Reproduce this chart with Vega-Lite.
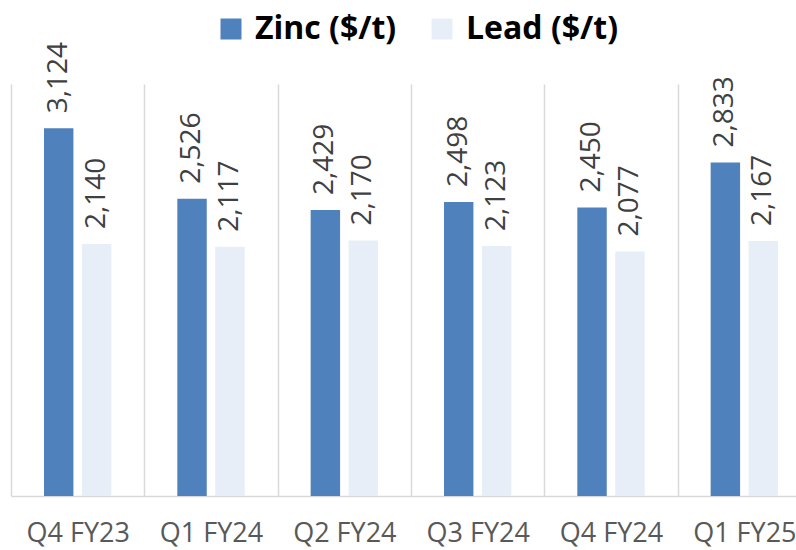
{
  "$schema": "https://vega.github.io/schema/vega-lite/v6.json",
  "autosize": {"type": "none"},
  "width": 785,
  "height": 412,
  "padding": {"left": 11, "top": 84, "right": 0, "bottom": 54},
  "background": "white",
  "config": {"view": {"stroke": null}, "font": "Open Sans"},
  "data": {
    "values": [
      {"quarter": "Q4 FY23", "metal": "Zinc ($/t)", "value": 3124},
      {"quarter": "Q4 FY23", "metal": "Lead ($/t)", "value": 2140},
      {"quarter": "Q1 FY24", "metal": "Zinc ($/t)", "value": 2526},
      {"quarter": "Q1 FY24", "metal": "Lead ($/t)", "value": 2117},
      {"quarter": "Q2 FY24", "metal": "Zinc ($/t)", "value": 2429},
      {"quarter": "Q2 FY24", "metal": "Lead ($/t)", "value": 2170},
      {"quarter": "Q3 FY24", "metal": "Zinc ($/t)", "value": 2498},
      {"quarter": "Q3 FY24", "metal": "Lead ($/t)", "value": 2123},
      {"quarter": "Q4 FY24", "metal": "Zinc ($/t)", "value": 2450},
      {"quarter": "Q4 FY24", "metal": "Lead ($/t)", "value": 2077},
      {"quarter": "Q1 FY25", "metal": "Zinc ($/t)", "value": 2833},
      {"quarter": "Q1 FY25", "metal": "Lead ($/t)", "value": 2167}
    ]
  },
  "encoding": {
    "x": {
      "field": "quarter", "type": "nominal", "sort": null,
      "scale": {"range": [0, 800], "paddingInner": 0, "paddingOuter": 0},
      "axis": {
        "title": null, "labelAngle": 0, "labelFontSize": 27, "labelColor": "#595959",
        "labelFont": "Open Sans", "labelPadding": 24, "ticks": false,
        "tickBand": "extent", "grid": true, "gridColor": "#d9d9d9", "gridWidth": 1.5,
        "domainColor": "#d9d9d9", "domainWidth": 1.5
      }
    },
    "xOffset": {
      "field": "metal", "type": "nominal", "sort": ["Zinc ($/t)", "Lead ($/t)"],
      "scale": {"paddingInner": 0.224, "paddingOuter": 0.87}
    },
    "y": {
      "field": "value", "type": "quantitative",
      "scale": {"domain": [0, 3500], "nice": false},
      "axis": null
    }
  },
  "layer": [
    {
      "mark": {"type": "bar"},
      "encoding": {
        "color": {
          "field": "metal", "type": "nominal", "sort": ["Zinc ($/t)", "Lead ($/t)"],
          "scale": {"domain": ["Zinc ($/t)", "Lead ($/t)"], "range": ["#4F81BD", "#E8EEF7"]},
          "legend": {
            "title": null, "orient": "none", "direction": "horizontal",
            "legendX": 204, "legendY": -71, "padding": 0,
            "symbolType": "square", "symbolSize": 441, "symbolStrokeWidth": 0,
            "symbolOpacity": 1,
            "labelFontSize": 32, "labelFontWeight": "bold", "labelColor": "#000000",
            "labelFont": "Open Sans", "labelOffset": 8, "columnPadding": 29,
            "labelLimit": 400
          }
        }
      }
    },
    {
      "mark": {
        "type": "text", "angle": -90, "align": "left", "baseline": "middle",
        "dx": 15, "fontSize": 28, "color": "#404040", "font": "Open Sans"
      },
      "encoding": {
        "text": {"field": "value", "type": "quantitative", "format": ","}
      }
    }
  ]
}
